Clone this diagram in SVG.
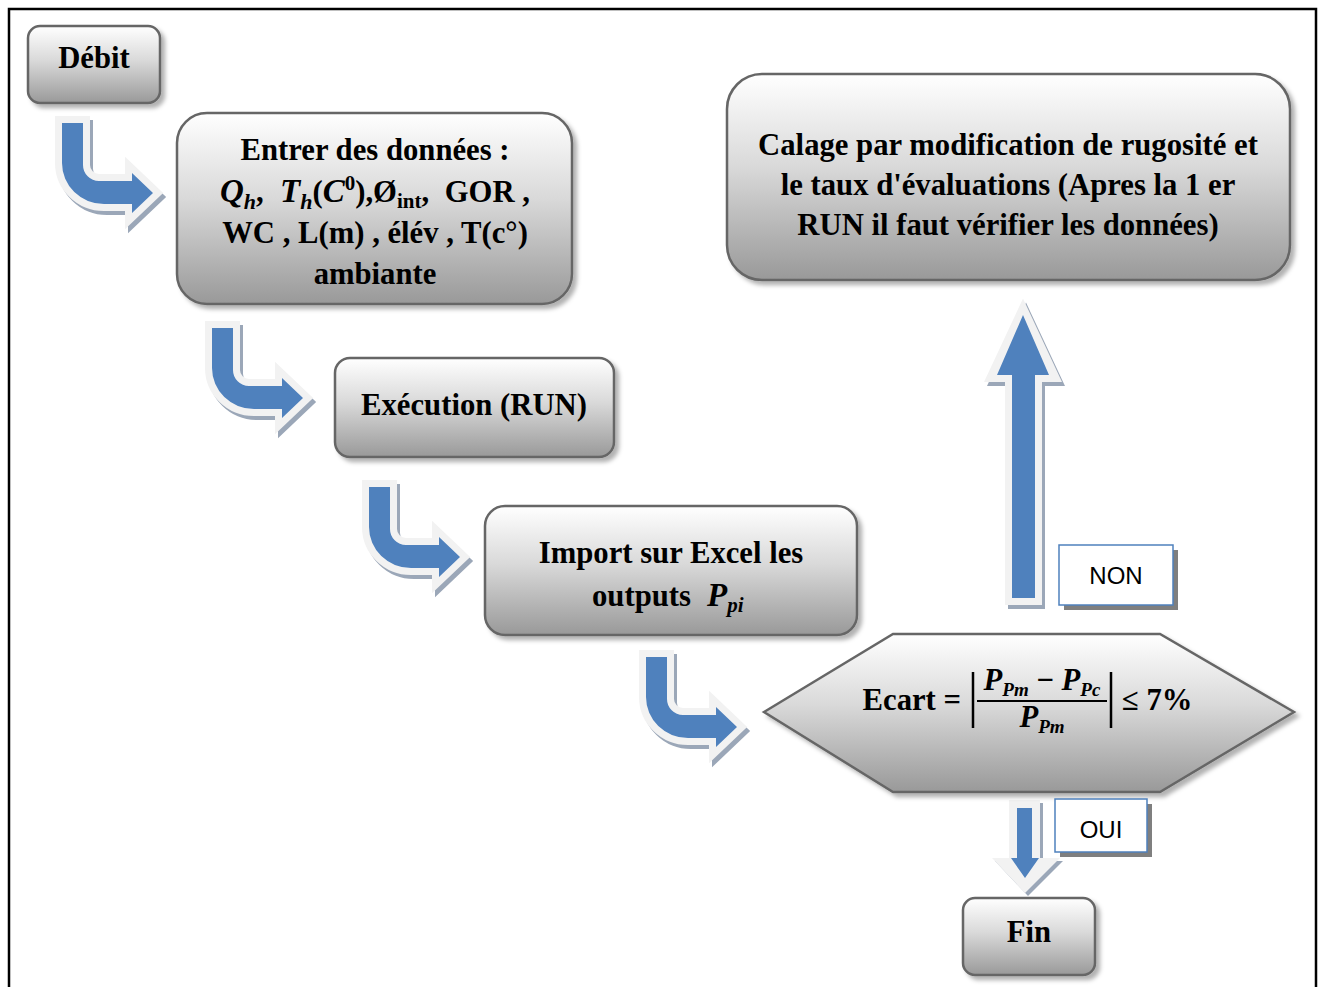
<svg xmlns="http://www.w3.org/2000/svg" width="1321" height="987" viewBox="0 0 1321 987">
  <defs>
    <linearGradient id="boxFill" x1="0" y1="0" x2="0" y2="1">
      <stop offset="0" stop-color="#ffffff"/>
      <stop offset="0.45" stop-color="#d9d9d9"/>
      <stop offset="1" stop-color="#999999"/>
    </linearGradient>
    <filter id="boxShadow" x="-10%" y="-10%" width="125%" height="130%">
      <feDropShadow dx="4" dy="4" stdDeviation="2" flood-color="#000" flood-opacity="0.3"/>
    </filter>
    <!-- bent arrow: down then right, origin at top-left of the blue shaft -->
    <path id="bentArrow" d="M0,0 H21 V42 A16,16 0 0 0 37,58 H70 V50 L91,70 L70,90 V81 H42 A42,41 0 0 1 0,40 Z"/>
  </defs>
  <style>
    .node { fill: url(#boxFill); stroke: #666666; stroke-width: 2.5; filter: url(#boxShadow); }
    .lbl { font-family: "Liberation Serif", "Times New Roman", serif; font-weight: bold; font-size: 30.7px; fill: #000; text-anchor: middle; }
    .start { text-anchor: start; }
    .end { text-anchor: end; }
    .math { font-family: "Liberation Serif", "Times New Roman", serif; font-weight: bold; font-style: italic; }
    .tag { fill: #ffffff; stroke: #4f81bd; stroke-width: 1.5; }
    .tagShadow { fill: #7f7f7f; }
    .tagText { font-family: "Liberation Sans", Arial, sans-serif; font-size: 24px; fill: #000; text-anchor: middle; }
    .arrShadow { fill: #9ba7b8; stroke: #9ba7b8; stroke-width: 14; stroke-linejoin: miter; }
    .arrRim { fill: #f2f2f2; stroke: #f2f2f2; stroke-width: 14; stroke-linejoin: miter; }
    .arrBody { fill: #4f81bd; }
  </style>

  <!-- frame -->
  <path d="M9,990 V9 H1316 V990" fill="none" stroke="#000" stroke-width="2.5"/>

  <!-- connectors -->
  <g id="connectors">
    <g id="arrow1" transform="translate(62,123)">
      <use href="#bentArrow" class="arrShadow" transform="translate(3,4)"/>
      <use href="#bentArrow" class="arrRim"/>
      <use href="#bentArrow" class="arrBody"/>
    </g>
    <g id="arrow2" transform="translate(212,328)">
      <use href="#bentArrow" class="arrShadow" transform="translate(3,4)"/>
      <use href="#bentArrow" class="arrRim"/>
      <use href="#bentArrow" class="arrBody"/>
    </g>
    <g id="arrow3" transform="translate(369,487)">
      <use href="#bentArrow" class="arrShadow" transform="translate(3,4)"/>
      <use href="#bentArrow" class="arrRim"/>
      <use href="#bentArrow" class="arrBody"/>
    </g>
    <g id="arrow4" transform="translate(646,657)">
      <use href="#bentArrow" class="arrShadow" transform="translate(3,4)"/>
      <use href="#bentArrow" class="arrRim"/>
      <use href="#bentArrow" class="arrBody"/>
    </g>
    <!-- NON: upward arrow -->
    <g id="arrowUp">
      <path d="M1012,598 V375 H995 L1023,315 L1051,375 H1035 V598 Z" class="arrShadow" transform="translate(3,4)"/>
      <path d="M1012,598 V375 H995 L1023,315 L1051,375 H1035 V598 Z" class="arrRim"/>
      <path d="M1012,598 V375 H997 L1023,315 L1049,375 H1035 V598 Z" class="arrBody"/>
    </g>
    <!-- OUI: downward arrow -->
    <g id="arrowDown">
      <path d="M1009,800 H1040 V858 H1060 L1025,893 L992,858 H1009 Z" fill="#9ba7b8" transform="translate(3,3)"/>
      <path d="M1009,800 H1040 V858 H1060 L1025,893 L992,858 H1009 Z" fill="#f2f2f2"/>
      <path d="M1017,808 H1032 V858 H1039 L1025,878 L1011,858 H1017 Z" fill="#4f81bd"/>
    </g>
  </g>

  <!-- nodes -->
  <g id="debit">
    <rect x="28" y="26" width="132" height="77" rx="12" class="node"/>
    <text x="94" y="68" class="lbl" font-size="31">Débit</text>
  </g>

  <g id="entrer">
    <rect x="177" y="113" width="395" height="191" rx="30" class="node"/>
    <text x="375" y="160" class="lbl">Entrer des données :</text>
    <text x="220" y="202" class="lbl start"><tspan class="math" font-size="33">Q</tspan><tspan class="math" font-size="22" dy="7">h</tspan><tspan dy="-7">,</tspan></text>
    <text x="280" y="202" class="lbl start"><tspan class="math" font-size="33">T</tspan><tspan class="math" font-size="22" dy="7">h</tspan><tspan dy="-7">(</tspan><tspan class="math" font-size="33">C</tspan><tspan font-size="21" dy="-12">0</tspan><tspan dy="12">),Ø</tspan><tspan font-size="21" dy="6">int</tspan><tspan dy="-6">,</tspan></text>
    <text x="530" y="202" class="lbl end">GOR ,</text>
    <text x="375" y="243" class="lbl">WC , L(m) , élév , T(c°)</text>
    <text x="375" y="284" class="lbl">ambiante</text>
  </g>

  <g id="execution">
    <rect x="335" y="358" width="279" height="99" rx="15" class="node"/>
    <text x="474" y="415" class="lbl">Exécution (RUN)</text>
  </g>

  <g id="import">
    <rect x="485" y="506" width="372" height="129" rx="20" class="node"/>
    <text x="671" y="563" class="lbl">Import sur Excel les</text>
    <text x="592" y="606" class="lbl start">outputs</text>
    <text x="707" y="606" class="lbl start"><tspan class="math" font-size="33">P</tspan><tspan class="math" font-size="21" dy="6">pi</tspan></text>
  </g>

  <g id="calage">
    <rect x="727" y="74" width="563" height="206" rx="35" class="node"/>
    <text x="1008" y="155" class="lbl">Calage par modification de rugosité et</text>
    <text x="1008" y="195" class="lbl">le taux d'évaluations (Apres la 1 er</text>
    <text x="1008" y="235" class="lbl">RUN il faut vérifier les données)</text>
  </g>

  <g id="ecart">
    <polygon points="764,712 893,634 1160,634 1294,712 1160,792 893,792" class="node"/>
    <text x="961" y="710" class="lbl end" font-size="26.5">Ecart =</text>
    <line x1="973" y1="672" x2="973" y2="728" stroke="#000" stroke-width="2.5"/>
    <line x1="1111" y1="672" x2="1111" y2="728" stroke="#000" stroke-width="2.5"/>
    <text x="1042" y="690" class="lbl" font-size="28"><tspan class="math">P</tspan><tspan class="math" font-size="19" dy="6">Pm</tspan><tspan dy="-6"> −  </tspan><tspan class="math">P</tspan><tspan class="math" font-size="19" dy="6">Pc</tspan></text>
    <line x1="977" y1="701" x2="1107" y2="701" stroke="#000" stroke-width="2"/>
    <text x="1042" y="727" class="lbl" font-size="28"><tspan class="math">P</tspan><tspan class="math" font-size="19" dy="6">Pm</tspan></text>
    <text x="1122" y="710" class="lbl start" font-size="27">≤ 7%</text>
  </g>

  <g id="non">
    <rect x="1064" y="550" width="114" height="60" class="tagShadow"/>
    <rect x="1059" y="545" width="114" height="60" class="tag"/>
    <text x="1116" y="584" class="tagText">NON</text>
  </g>

  <g id="oui">
    <rect x="1060" y="804" width="92" height="53" class="tagShadow"/>
    <rect x="1055" y="799" width="92" height="53" class="tag"/>
    <text x="1101" y="838" class="tagText">OUI</text>
  </g>

  <g id="fin">
    <rect x="963" y="898" width="132" height="77" rx="12" class="node"/>
    <text x="1029" y="942" class="lbl" font-size="31">Fin</text>
  </g>
</svg>
